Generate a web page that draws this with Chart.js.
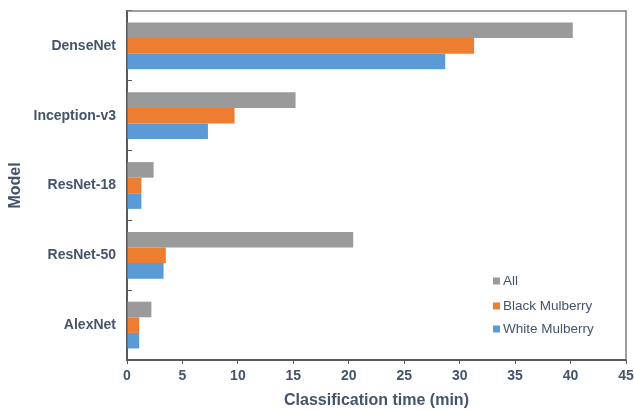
<!DOCTYPE html>
<html>
<head>
<meta charset="utf-8">
<script src="https://cdn.jsdelivr.net/npm/chart.js@4/dist/chart.umd.min.js"></script>
<style>
  html, body { margin: 0; padding: 0; background: #fff; }
  #wrap { width: 634px; height: 410px; }
</style>
</head>
<body>
<div id="wrap"><canvas id="chart"></canvas></div>
<script>
const models = ['DenseNet', 'Inception-v3', 'ResNet-18', 'ResNet-50', 'AlexNet']
const allTimes = [40.2, 15.2, 2.4, 20.4, 2.2]
const blackTimes = [31.3, 9.7, 1.3, 3.5, 1.1]
const whiteTimes = [28.7, 7.3, 1.3, 3.3, 1.1]
const xTicks = [0, 5, 10, 15, 20, 25, 30, 35, 40, 45]

const textColor = '#44546a'
const axisColor = '#595959'
const fontFamily = '"Liberation Sans", Arial, sans-serif'

// legend drawn inside the plot, bottom right
const insideLegend = {
    id: 'insideLegend',
    afterDraw(chart) {
        const ctx = chart.ctx
        const x = 493
        const rows = [281, 306, 329]
        ctx.save()
        ctx.font = '13.5px ' + fontFamily
        ctx.textBaseline = 'middle'
        chart.data.datasets.forEach((ds, i) => {
            ctx.fillStyle = ds.backgroundColor
            ctx.fillRect(x, rows[i] - 3.5, 7, 7)
            ctx.fillStyle = textColor
            ctx.fillText(ds.label, x + 10, rows[i])
        })
        ctx.restore()
    }
}

// light frame on top and right of the plot
const frame = {
    id: 'frame',
    afterDraw(chart) {
        const { left, top, right, bottom } = chart.chartArea
        const ctx = chart.ctx
        ctx.save()
        ctx.strokeStyle = '#7f7f7f'
        ctx.lineWidth = 1.5
        ctx.beginPath()
        ctx.moveTo(left, top)
        ctx.lineTo(right, top)
        ctx.lineTo(right, bottom)
        ctx.stroke()
        ctx.restore()
    }
}

new Chart(document.querySelector('#chart').getContext('2d'), {
    type: 'bar',
    data: {
        labels: models,
        datasets: [
            { label: 'All', data: allTimes, backgroundColor: '#9a9a9a' },
            { label: 'Black Mulberry', data: blackTimes, backgroundColor: '#ed7d31' },
            { label: 'White Mulberry', data: whiteTimes, backgroundColor: '#5b9bd5' },
        ]
    },
    options: {
        indexAxis: 'y',
        responsive: true,
        maintainAspectRatio: false,
        animation: false,
        categoryPercentage: 0.67,
        barPercentage: 1,
        layout: { padding: { left: 0, top: 11, right: 8, bottom: 0 } },
        plugins: {
            legend: { display: false },
            tooltip: { enabled: false }
        },
        scales: {
            x: {
                min: 0,
                max: 45,
                afterBuildTicks: axis => { axis.ticks = xTicks.map(v => ({ value: v })) },
                afterFit: axis => {
                    axis.height = 50
                    axis.paddingLeft = 0
                    axis.paddingRight = 0
                },
                border: { color: axisColor, width: 2 },
                grid: { drawOnChartArea: false, tickLength: 4, color: axisColor },
                ticks: {
                    color: textColor,
                    padding: 4,
                    font: { family: fontFamily, size: 14, weight: 'bold' }
                },
                title: {
                    display: true,
                    text: 'Classification time (min)',
                    color: textColor,
                    padding: { top: 2, bottom: 0 },
                    font: { family: fontFamily, size: 16, weight: 'bold' }
                }
            },
            y: {
                afterFit: axis => {
                    axis.width = 127
                    axis.paddingTop = 0
                    axis.paddingBottom = 0
                },
                border: { color: axisColor, width: 2 },
                // category ticks sit just inside the plot, as in the original
                grid: { drawOnChartArea: false, tickLength: -5, color: axisColor },
                ticks: {
                    color: textColor,
                    padding: 16,
                    font: { family: fontFamily, size: 14, weight: 'bold' }
                },
                title: {
                    display: true,
                    text: 'Model',
                    color: textColor,
                    padding: { top: 6, bottom: 0 },
                    font: { family: fontFamily, size: 16, weight: 'bold' }
                }
            }
        }
    },
    plugins: [frame, insideLegend]
})
</script>
</body>
</html>
